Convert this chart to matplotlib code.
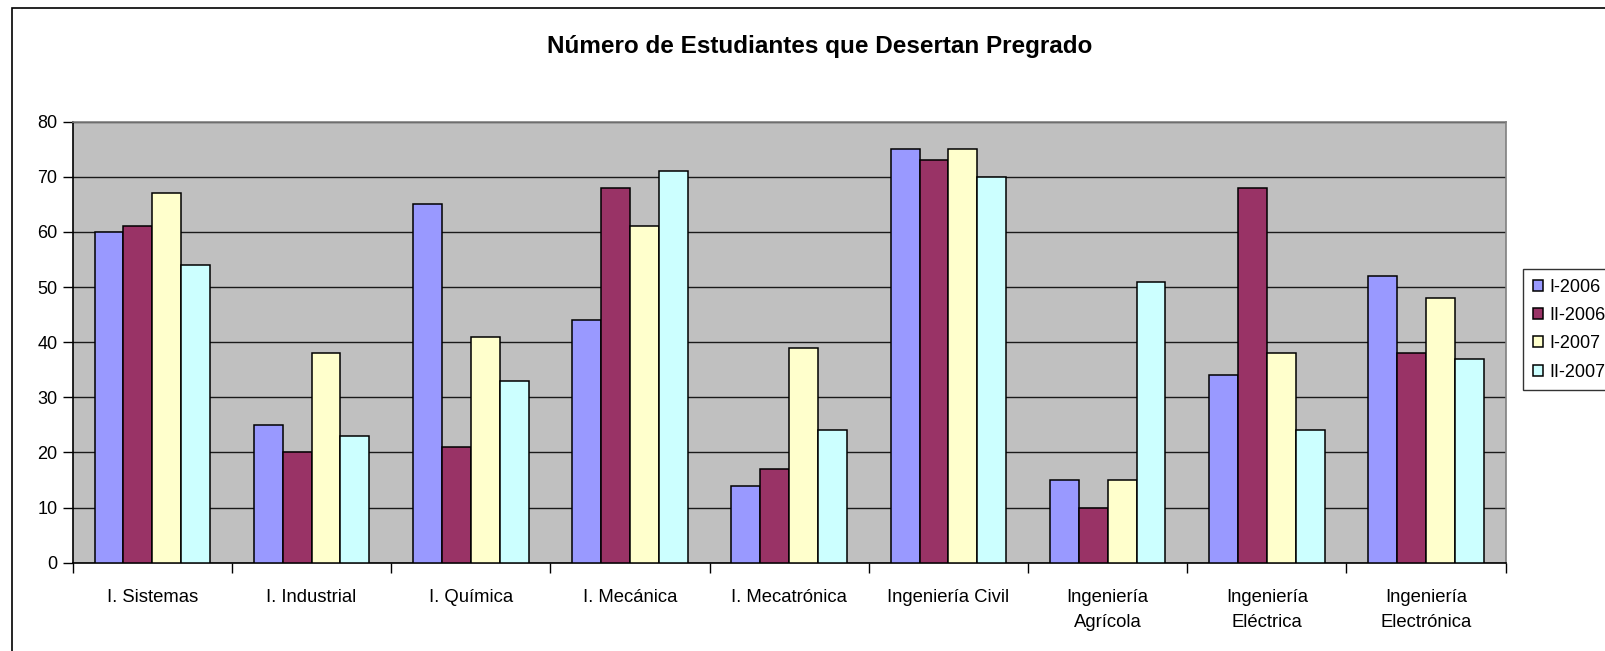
import matplotlib.pyplot as plt
import matplotlib.patches as mpatches
import numpy as np

plt.rcParams['font.family'] = ['Liberation Sans', 'DejaVu Sans']

carreras = ['I. Sistemas', 'I. Industrial', 'I. Química', 'I. Mecánica', 'I. Mecatrónica',
            'Ingeniería Civil', 'Ingeniería\nAgrícola', 'Ingeniería\nEléctrica', 'Ingeniería\nElectrónica']
periodos = ['I-2006', 'II-2006', 'I-2007', 'II-2007']
i_2006 = [60, 25, 65, 44, 14, 75, 15, 34, 52]
ii_2006 = [61, 20, 21, 68, 17, 73, 10, 68, 38]
i_2007 = [67, 38, 41, 61, 39, 75, 15, 38, 48]
ii_2007 = [54, 23, 33, 71, 24, 70, 51, 24, 37]
colores = ['#9999FF', '#993366', '#FFFFCC', '#CCFFFF']

W, H = 1605, 651
fig = plt.figure(figsize=(W / 100, H / 100), dpi=100)
ax = fig.add_axes([72.7 / W, 1 - 562.7 / H, (1505.7 - 72.7) / W, (562.7 - 121.7) / H])
ax.set_facecolor('#C0C0C0')

x = np.arange(len(carreras))
ancho = 0.1815
series = [i_2006, ii_2006, i_2007, ii_2007]
for k, (vals, col, lab) in enumerate(zip(series, colores, periodos)):
    ax.bar(x + (k - 1.5) * ancho, vals, ancho, color=col, edgecolor='black',
           linewidth=1.1, label=lab, zorder=3)

ax.set_xlim(-0.5, len(carreras) - 0.5)
ax.set_ylim(0, 80)
ax.set_yticks(range(0, 81, 10))
ax.yaxis.grid(True, color='#1a1a1a', linewidth=1.0, zorder=1)
ax.set_axisbelow(True)

ax.set_xticks(x)
ax.set_xticklabels(carreras, fontsize=13.3, linespacing=1.6)
ax.set_xticks(np.arange(-0.5, len(carreras), 1), minor=True)
ax.tick_params(axis='x', which='major', length=0, pad=19)
ax.tick_params(axis='x', which='minor', length=7, width=1, color='black', direction='out')
ax.tick_params(axis='y', length=7, width=1, direction='out', labelsize=13, pad=4)

ax.spines['left'].set_color('black')
ax.spines['bottom'].set_color('black')
ax.spines['top'].set_color('#808080')
ax.spines['right'].set_color('#808080')
for s in ax.spines.values():
    s.set_linewidth(1.2)

fig.text(820 / W, 1 - 47 / H, 'Número de Estudiantes que Desertan Pregrado',
         ha='center', va='center', fontsize=17.5, fontweight='bold')

leg = ax.legend(loc='upper left', bbox_to_anchor=(1523 / W, 1 - 269 / H),
                bbox_transform=fig.transFigure, fontsize=13, frameon=True,
                fancybox=False, edgecolor='black', handlelength=0.55, handleheight=0.55,
                handletextpad=0.35, labelspacing=0.62, borderpad=0.55, borderaxespad=0)
leg.get_frame().set_linewidth(1.0)

borde = mpatches.Rectangle((12.3 / W, -0.05), 1.2, 1 - 7.7 / H + 0.05, transform=fig.transFigure,
                           fill=False, edgecolor='black', linewidth=1.2)
fig.patches.append(borde)

fig.savefig('out.png', dpi=100)
